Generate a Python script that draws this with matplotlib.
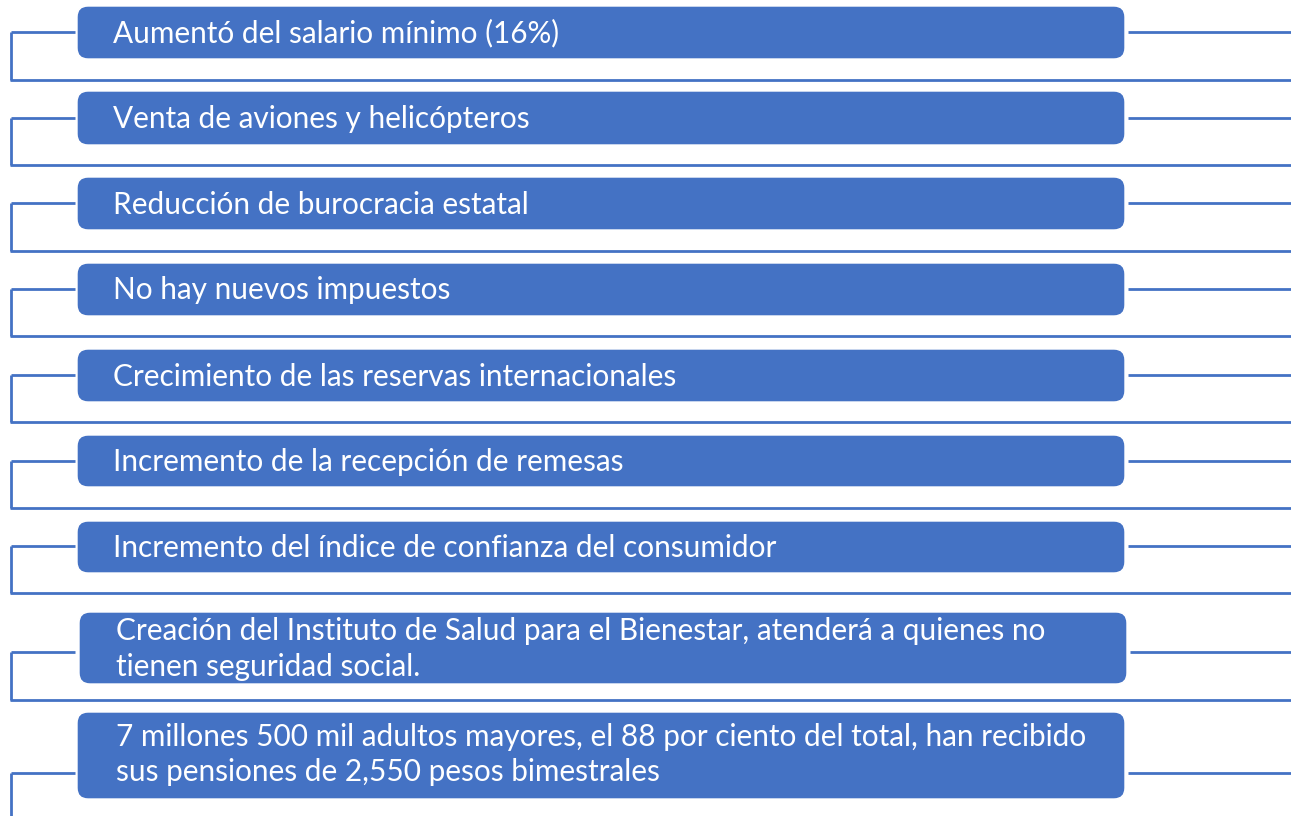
import matplotlib.pyplot as plt
from matplotlib.patches import FancyBboxPatch

labels = [
    'Aumentó del salario mínimo (16%)',
    'Venta de aviones y helicópteros',
    'Reducción de burocracia estatal',
    'No hay nuevos impuestos',
    'Crecimiento de las reservas internacionales',
    'Incremento de la recepción de remesas',
    'Incremento del índice de confianza del consumidor',
    'Creación del Instituto de Salud para el Bienestar, atenderá a quienes no\ntienen seguridad social.',
    '7 millones 500 mil adultos mayores, el 88 por ciento del total, han recibido\nsus pensiones de 2,550 pesos bimestrales',
]
box_top = [6, 91, 177, 263, 349, 435, 521, 612, 712]
box_bot = [59, 145, 230, 316, 402, 487, 573, 684, 799]
row_y = [32, 118, 203, 289, 375, 461, 546, 652, 773]
sep_y = [80, 165, 251, 336, 422, 508, 593, 700, 816]

blue = '#4472C4'
W, H = 1291, 816

fig = plt.figure(figsize=(12.91, 8.16), dpi=100)
ax = fig.add_axes([0, 0, 1, 1])
ax.set_xlim(0, W)
ax.set_ylim(H, 0)
ax.axis('off')

lw = 2.0
for i, lab in enumerate(labels):
    x0, x1 = 77, 1125
    if i == 7:
        x0, x1 = 79, 1127
    # connectors
    ax.plot([11, 75], [row_y[i], row_y[i]], color=blue, lw=lw, solid_capstyle='butt')
    ax.plot([11, 11], [row_y[i], sep_y[i]], color=blue, lw=lw, solid_capstyle='butt')
    if i < len(labels) - 1:
        ax.plot([10, W], [sep_y[i], sep_y[i]], color=blue, lw=lw, solid_capstyle='butt')
    ax.plot([x1 + 3, W], [row_y[i], row_y[i]], color=blue, lw=lw, solid_capstyle='butt')
    # box
    h = box_bot[i] - box_top[i]
    box = FancyBboxPatch((x0, box_top[i]), x1 - x0, h,
                         boxstyle='round,pad=0,rounding_size=11',
                         fc=blue, ec='white', lw=1)
    ax.add_patch(box)
    tx = 116 if i >= 7 else 113
    ty = (box_top[i] + box_bot[i]) / 2 + 1 - (2 if i == 8 else 0)
    ax.text(tx, ty, lab, color='white', fontsize=21.4, family=['Lato', 'DejaVu Sans'],
            va='center', ha='left', linespacing=1.32)

fig.savefig('out.png', dpi=100)
